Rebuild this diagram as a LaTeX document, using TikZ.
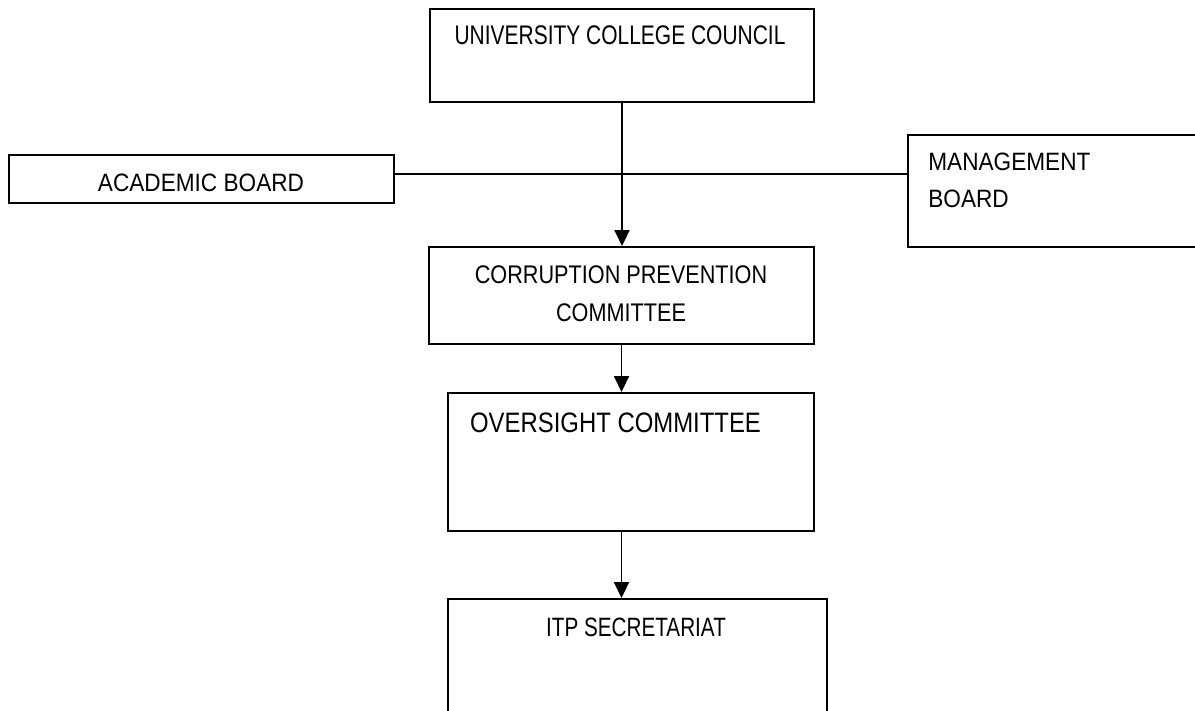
\documentclass[tikz,border=0pt]{standalone}
\usepackage{fontspec}
\setmainfont[FakeStretch=0.85]{Liberation Sans}
\newfontfamily\condface[FakeStretch=0.78]{Liberation Sans}
\newfontfamily\wideface[FakeStretch=0.9]{Liberation Sans}
\usepackage{tikz}
\usetikzlibrary{arrows.meta,positioning}
\tikzset{
  box/.style={draw=black,line width=1.2pt,inner sep=0pt,minimum width=#1},
  tag/.style={inner sep=0pt,text=black,font=\fontsize{14.6}{21}\selectfont},
  arr/.style={-{Triangle[length=9pt,width=8.5pt]},line width=1.1pt},
  link/.style={line width=1.1pt},
}
\begin{document}
\begin{tikzpicture}[x=0.02cm,y=-0.02cm]
  \useasboundingbox (0,0) rectangle (1195,710);
  \clip (0,0) rectangle (1195,710);
  % boxes
  \node[box=7.68cm,minimum height=1.86cm] (council) at (622,55.5) {};
  \node[box=7.70cm,minimum height=0.96cm] (academic) at (201.5,179) {};
  \node[box=6.84cm,minimum height=2.24cm] (mgmt) at (1079,191) {};
  \node[box=7.70cm,minimum height=1.94cm] (cpc) at (621.5,295.5) {};
  \node[box=7.32cm,minimum height=2.76cm] (oversight) at (631,462) {};
  \node[box=7.58cm,minimum height=3.22cm] (itp) at (637.5,679.5) {};
  % texts
  \node[tag,anchor=base,font=\condface\fontsize{15.3}{21}\selectfont] (councilT) at (620,44) {UNIVERSITY COLLEGE COUNCIL};
  \node[tag,anchor=base,font=\wideface\fontsize{14.3}{21}\selectfont] (academicT) at (201,191) {ACADEMIC BOARD};
  \node[tag,anchor=base west,font=\wideface\fontsize{14.3}{21}\selectfont] (mgmtT) at (928,170) {MANAGEMENT};
  \node[tag,anchor=base west,font=\wideface\fontsize{14.3}{21}\selectfont] (mgmtT2) at (928,207) {BOARD};
  \node[tag,anchor=base,font=\fontsize{14.5}{21}\selectfont] (cpcT) at (621,283) {CORRUPTION PREVENTION};
  \node[tag,anchor=base,font=\fontsize{14.5}{21}\selectfont] (cpcT2) at (621,321) {COMMITTEE};
  \node[tag,anchor=base,font=\fontsize{16}{22}\selectfont] (oversightT) at (615.5,432) {OVERSIGHT COMMITTEE};
  \node[tag,anchor=base,font=\condface\fontsize{15.1}{21}\selectfont] (itpT) at (636,636) {ITP SECRETARIAT};
  % connectors
  \coordinate (hline) at (622,174);
  \draw[link] (academic.east |- hline) -- (mgmt.west |- hline);
  \draw[arr] (council.south) -- (council.south |- cpc.north);
  \draw[arr] (cpc.south) -- (cpc.south |- oversight.north);
  \draw[arr] (cpc.south |- oversight.south) -- (cpc.south |- itp.north);
\end{tikzpicture}
\end{document}
